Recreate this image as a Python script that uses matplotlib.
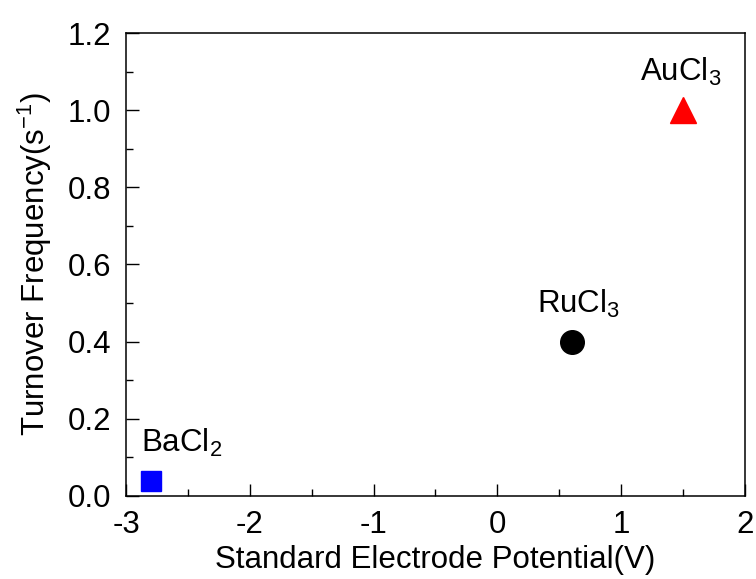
import numpy as np
import matplotlib
matplotlib.use('Agg')
import matplotlib.pyplot as plt

## data
salts = ['BaCl$_\\mathregular{2}$', 'RuCl$_\\mathregular{3}$', 'AuCl$_\\mathregular{3}$']
potential = [-2.8, 0.6, 1.5]        ## standard electrode potential (V)
tof = [0.04, 0.40, 1.00]            ## turnover frequency (1/s)
colors = ['#0000ff', '#000000', '#ff0000']
markers = ['s', 'o', '^']
msize = [14, 17, 19]

plt.rcParams['font.family'] = ['Liberation Sans', 'DejaVu Sans']
plt.rcParams['mathtext.fontset'] = 'custom'
plt.rcParams['mathtext.rm'] = 'Liberation Sans'

fs = 22.5

fig = plt.figure(figsize=(7.56, 5.79), dpi=100)
ax = fig.add_axes([0.1667, 0.1434, 0.8187, 0.7996])

for i in range(len(salts)):
    ax.plot(potential[i], tof[i], marker=markers[i], color=colors[i],
            markersize=msize[i], linestyle='none')

## label offsets (left edge, baseline) relative to each point
offsets = [(-0.08, 0.074), (-0.28, 0.074), (-0.35, 0.075)]
for i in range(len(salts)):
    ax.text(potential[i] + offsets[i][0], tof[i] + offsets[i][1], salts[i],
            fontsize=fs, ha='left', va='baseline')

ax.set_xlim(-3, 2)
ax.set_ylim(0, 1.2)
ax.set_xticks(np.arange(-3, 2.1, 1))
ax.set_xticks(np.arange(-2.5, 2, 1), minor=True)
ax.set_yticks(np.arange(0, 1.21, 0.2))
ax.set_yticks(np.arange(0.1, 1.2, 0.2), minor=True)
ax.set_xticklabels(['-3', '-2', '-1', '0', '1', '2'])
ax.set_yticklabels(['0.0', '0.2', '0.4', '0.6', '0.8', '1.0', '1.2'])

ax.tick_params(which='both', direction='in', labelsize=fs, width=1.0)
ax.tick_params(axis='y', pad=10.5)
ax.tick_params(axis='x', pad=10)
ax.tick_params(which='major', length=9)
ax.tick_params(which='minor', length=5)
for s in ax.spines.values():
    s.set_linewidth(1.1)

ax.set_xlabel('Standard Electrode Potential(V)', fontsize=fs, labelpad=4)
ax.set_ylabel('Turnover Frequency(s$^\\mathregular{-1}$)', fontsize=fs, labelpad=10)

fig.savefig('out.png', dpi=100)
